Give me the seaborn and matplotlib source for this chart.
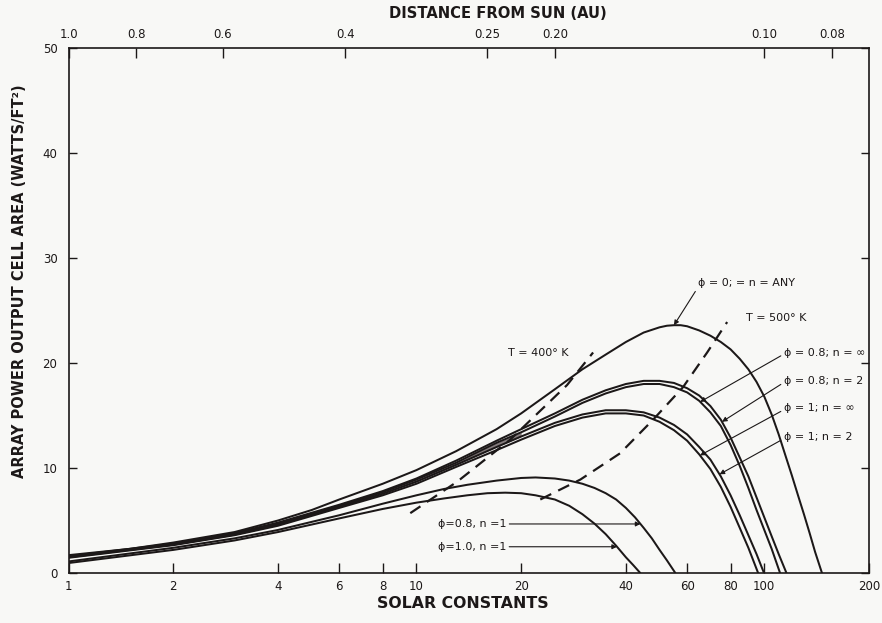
import numpy as np
import matplotlib
matplotlib.use("Agg")
import matplotlib.pyplot as plt
import seaborn as sns
from matplotlib.ticker import FixedLocator, FixedFormatter, NullLocator

# ---- data: solar constants (S) vs array power output per cell area (W/ft^2) ----
phi0_s = [1, 1.5, 2, 3, 4, 5, 6, 8, 10, 13, 17, 20, 25, 30, 35, 40, 45, 50, 52.5, 55, 57.5,
          60, 65, 70, 75, 80, 85, 90, 95, 100, 105, 110, 115, 120, 125, 130, 135, 140, 146.5]
phi0_p = [1.7, 2.3, 2.9, 3.9, 5.0, 6.0, 7.0, 8.5, 9.8, 11.6, 13.7, 15.2, 17.5, 19.4, 20.8, 22.0,
          22.9, 23.4, 23.55, 23.6, 23.6, 23.5, 23.1, 22.6, 22.0, 21.3, 20.4, 19.4, 18.2, 16.8,
          15.1, 13.2, 11.2, 9.3, 7.4, 5.6, 3.8, 2.0, 0.0]

phi08_n2_s = [1, 2, 3, 4, 6, 8, 10, 13, 17, 20, 25, 30, 35, 40, 45, 50, 55, 60, 65, 70,
              75, 80, 85, 90, 95, 100, 105, 110, 115.8]
phi08_n2_p = [1.6, 2.8, 3.8, 4.8, 6.5, 7.8, 9.0, 10.7, 12.6, 13.7, 15.2, 16.5, 17.4, 18.0, 18.3,
              18.3, 18.1, 17.6, 16.9, 15.9, 14.6, 12.9, 11.0, 9.2, 7.2, 5.3, 3.5, 1.8, 0.0]

phi08_inf_s = [1, 2, 3, 4, 6, 8, 10, 13, 17, 20, 25, 30, 35, 40, 45, 50, 55, 60, 65, 70,
               75, 80, 85, 90, 95, 100, 105, 111]
phi08_inf_p = [1.55, 2.75, 3.7, 4.7, 6.4, 7.7, 8.9, 10.5, 12.4, 13.4, 14.9, 16.2, 17.1, 17.7, 18.0,
               18.0, 17.7, 17.2, 16.4, 15.3, 14.0, 12.2, 10.2, 8.1, 6.0, 4.1, 2.3, 0.0]

phi1_n2_s = [1, 2, 3, 4, 6, 8, 10, 13, 17, 20, 25, 30, 35, 40, 45, 50, 55, 60, 65, 70,
             75, 80, 85, 90, 95, 99.8]
phi1_n2_p = [1.5, 2.7, 3.65, 4.6, 6.3, 7.55, 8.7, 10.3, 12.0, 13.0, 14.3, 15.1, 15.5, 15.5, 15.3,
             14.8, 14.1, 13.2, 12.0, 10.8, 9.2, 7.4, 5.5, 3.6, 1.8, 0.0]

phi1_inf_s = [1, 2, 3, 4, 6, 8, 10, 13, 17, 20, 25, 30, 35, 40, 45, 50, 55, 60, 65, 70,
              75, 80, 85, 90, 96]
phi1_inf_p = [1.45, 2.65, 3.6, 4.5, 6.2, 7.4, 8.5, 10.1, 11.7, 12.7, 14.0, 14.8, 15.2, 15.2, 15.0,
              14.4, 13.6, 12.6, 11.3, 9.9, 8.2, 6.3, 4.3, 2.4, 0.0]

phi08_n1_s = [1, 2, 3, 4, 6, 8, 10, 12, 14, 17, 20, 22, 25, 27.5, 30, 32.5, 35, 37.5, 40,
              42.5, 45, 47.5, 50, 52.5, 55.5]
phi08_n1_p = [1.1, 2.4, 3.3, 4.1, 5.5, 6.6, 7.4, 8.0, 8.4, 8.8, 9.05, 9.1, 9.0, 8.8, 8.5, 8.1,
              7.6, 7.0, 6.2, 5.3, 4.3, 3.3, 2.2, 1.2, 0.0]

phi1_n1_s = [1, 2, 3, 4, 6, 8, 10, 12, 14, 16, 18, 20, 22, 25, 27.5, 30, 32.5, 35, 37.5, 40,
             42, 44]
phi1_n1_p = [0.95, 2.2, 3.1, 3.9, 5.2, 6.1, 6.7, 7.1, 7.4, 7.6, 7.65, 7.6, 7.4, 7.0, 6.4, 5.6,
             4.7, 3.7, 2.6, 1.5, 0.75, 0.0]

# isotherms
t400_s = [9.6, 13.1, 18.6, 27.1, 32.2]
t400_p = [5.7, 8.7, 12.7, 17.9, 21.0]
t500_s = [22.7, 29.6, 38.5, 47.9, 58.4, 68.5, 78.2]
t500_p = [7.0, 8.9, 11.4, 14.6, 17.7, 21.0, 23.9]

# axis ticks
x_ticks = [1, 2, 4, 6, 8, 10, 20, 40, 60, 80, 100, 200]
x_tick_labels = ["1", "2", "4", "6", "8", "10", "20", "40", "60", "80", "100", "200"]
y_ticks = [0, 10, 20, 30, 40, 50]
au_values = [1.0, 0.8, 0.6, 0.4, 0.25, 0.20, 0.10, 0.08]
au_labels = ["1.0", "0.8", "0.6", "0.4", "0.25", "0.20", "0.10", "0.08"]

# ---- styling ----
sns.set_theme(style="ticks")
plt.rcParams["font.family"] = ["DejaVu Sans"]
ink = "#1c1818"
paper = "#f8f8f6"

fig, ax = plt.subplots(figsize=(8.82, 6.23), dpi=100)
fig.patch.set_facecolor(paper)
ax.set_facecolor(paper)
fig.subplots_adjust(left=68.6 / 882, right=869 / 882, bottom=1 - 573 / 623, top=1 - 48 / 623)

ax.set_xscale("log")
ax.set_xlim(1, 200)
ax.set_ylim(0, 50)

curves = [
    (phi0_s, phi0_p), (phi08_n2_s, phi08_n2_p), (phi08_inf_s, phi08_inf_p),
    (phi1_n2_s, phi1_n2_p), (phi1_inf_s, phi1_inf_p),
    (phi08_n1_s, phi08_n1_p), (phi1_n1_s, phi1_n1_p),
]
for s, p in curves:
    sns.lineplot(x=s, y=p, ax=ax, color=ink, lw=1.45, sort=False, estimator=None)

# dark overlap band where the phi = 0.8 and phi = 1 curves run together
band = slice(2, 10)
ax.fill_between(phi08_inf_s[band], phi1_n2_p[band], phi08_inf_p[band],
                color="#3a2c2e", alpha=0.6, lw=0)

for s, p in [(t400_s, t400_p), (t500_s, t500_p)]:
    sns.lineplot(x=s, y=p, ax=ax, color=ink, lw=1.6, sort=False, estimator=None,
                 linestyle=(0, (5.5, 3.5)))


def falling_s(s, p, level):
    s = np.asarray(s, float)
    p = np.asarray(p, float)
    k = int(np.argmax(p))
    ls = np.log10(s[k:])
    pp = p[k:]
    return 10 ** np.interp(level, pp[::-1], ls[::-1])


arrow = dict(arrowstyle="-|>", color=ink, lw=0.8, mutation_scale=7, shrinkA=0, shrinkB=0)
lab = dict(fontsize=8, color=ink, va="center")

peak_p = float(np.interp(np.log10(55), np.log10(phi0_s), phi0_p))
ax.annotate("ϕ = 0; = n = ANY", xy=(55, peak_p), xytext=(64.5, 27.6), ha="left",
            arrowprops=dict(arrow, relpos=(0, 0.1)), **lab)

right_labels = [
    ("ϕ = 0.8; n = ∞", phi08_inf_s, phi08_inf_p, 16.3, 21.0),
    ("ϕ = 0.8; n = 2", phi08_n2_s, phi08_n2_p, 14.4, 18.3),
    ("ϕ = 1; n = ∞", phi1_inf_s, phi1_inf_p, 11.2, 15.7),
    ("ϕ = 1; n = 2", phi1_n2_s, phi1_n2_p, 9.4, 12.95),
]
for text, s, p, level, ty in right_labels:
    ax.annotate(text, xy=(falling_s(s, p, level), level), xytext=(114, ty), ha="left",
                arrowprops=dict(arrow, relpos=(0, 0.35)), **lab)

low_labels = [
    ("ϕ=0.8, n =1", phi08_n1_s, phi08_n1_p, 4.67),
    ("ϕ=1.0, n =1", phi1_n1_s, phi1_n1_p, 2.5),
]
for text, s, p, level in low_labels:
    ax.annotate(text, xy=(falling_s(s, p, level), level), xytext=(11.5, level), ha="left",
                arrowprops=dict(arrow, relpos=(1, 0.5)), **lab)

ax.text(18.3, 21.0, "T = 400° K", ha="left", **lab)
ax.text(88.5, 24.3, "T = 500° K", ha="left", **lab)

# ---- axes ----
ax.xaxis.set_major_locator(FixedLocator(x_ticks))
ax.xaxis.set_major_formatter(FixedFormatter(x_tick_labels))
ax.xaxis.set_minor_locator(NullLocator())
ax.set_yticks(y_ticks)
ax.tick_params(axis="x", direction="in", length=7, width=1.0, pad=5, labelsize=8.5,
               colors=ink, top=False)
ax.tick_params(axis="y", direction="in", length=6, width=1.0, pad=8, labelsize=8.5,
               colors=ink, right=True)
for sp in ax.spines.values():
    sp.set_visible(True)
    sp.set_linewidth(1.2)
    sp.set_color(ink)

ax.set_xlabel("SOLAR CONSTANTS", fontsize=11.3, fontweight="bold", color=ink)
ax.xaxis.set_label_coords(0.493, -0.044)
ax.set_ylabel("ARRAY POWER OUTPUT CELL AREA (WATTS/FT²)", fontsize=10.5,
              fontweight="bold", color=ink)
ax.yaxis.set_label_coords(-0.052, 0.556)

top = ax.twiny()
top.set_xscale("log")
top.set_xlim(ax.get_xlim())
top.xaxis.set_major_locator(FixedLocator([1.0 / d ** 2 for d in au_values]))
top.xaxis.set_major_formatter(FixedFormatter(au_labels))
top.xaxis.set_minor_locator(NullLocator())
top.tick_params(axis="x", direction="in", length=7, width=1.0, pad=5, labelsize=8.5,
                colors=ink, bottom=False)
for sp in top.spines.values():
    sp.set_visible(False)
top.set_xlabel("DISTANCE FROM SUN (AU)", fontsize=10.6, fontweight="bold", color=ink)
top.xaxis.set_label_coords(0.536, 1.058)

fig.savefig("out.png", dpi=100, facecolor=paper)
